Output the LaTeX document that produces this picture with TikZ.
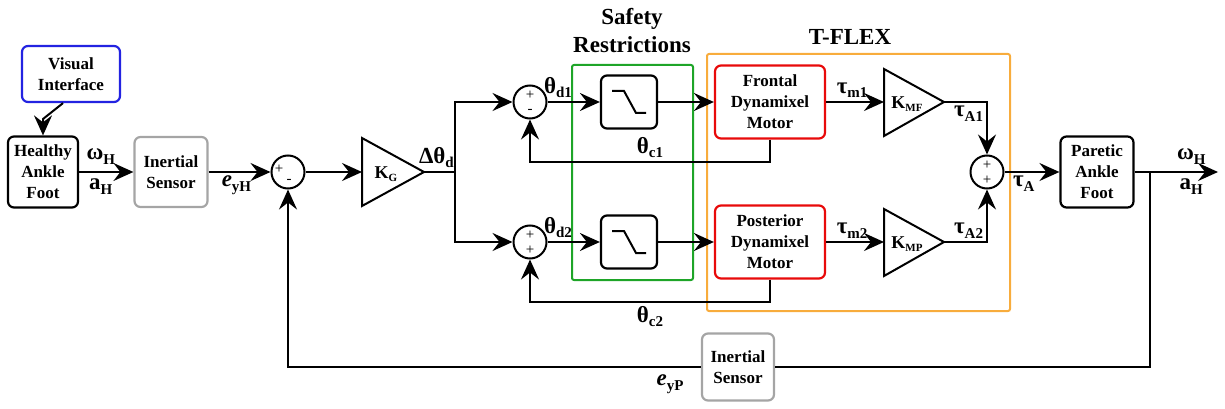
\documentclass[tikz,border=0pt]{standalone}
\usepackage{fontspec}
\setmainfont{Liberation Serif}
\usetikzlibrary{arrows.meta,calc}
\definecolor{viblue}{RGB}{35,35,225}
\definecolor{sensgray}{RGB}{165,165,165}
\definecolor{safegreen}{RGB}{30,165,40}
\definecolor{motorred}{RGB}{232,10,10}
\definecolor{flexorange}{RGB}{248,172,60}
\newcommand{\lsub}[2][15]{\raisebox{-0.2em}{\fontsize{#1}{#1}\selectfont #2}}

\begin{document}
\begin{tikzpicture}[x=1pt,y=-1pt,line width=2pt,>={Stealth[length=20pt,width=18pt,inset=7pt]},
  blk/.style={draw,rounded corners=6pt,line width=2.2pt,align=center,inner sep=0,font=\fontsize{17}{21}\selectfont\bfseries},
  sumnode/.style={draw,circle,minimum size=33pt,inner sep=0},
  sgn/.style={inner sep=0,font=\fontsize{15}{15}\selectfont},
  lbl/.style={inner sep=3pt,font=\fontsize{23}{26}\selectfont\bfseries},
  ttl/.style={align=center,font=\fontsize{23}{28}\selectfont\bfseries},
  gain/.style={inner sep=0,font=\fontsize{18}{18}\selectfont\bfseries}]
\useasboundingbox (0,0) rectangle (1225,409);
% frames
\draw[safegreen,rounded corners=2pt] (572,65) rectangle (693,280);
\draw[flexorange,rounded corners=2pt] (707,54) rectangle (1010,311);
\node[ttl] (safety) at (632,31) {Safety\\Restrictions};
\node[ttl] (tflex) at (850,37) {T-FLEX};
% healthy side
\node[blk,draw=viblue,minimum width=98pt,minimum height=56pt] (vis) at (71,74) {Visual\\Interface};
\node[blk,minimum width=70pt,minimum height=71pt] (hea) at (43,172) {Healthy\\Ankle\\Foot};
\node[blk,draw=sensgray,minimum width=73pt,minimum height=70pt] (sens1) at (171,172) {Inertial\\Sensor};
\node[sumnode] (esum) at (288,172) {};
\node[sgn] (esump) at ($(esum)+(-9,-3)$) {+};
\node[sgn] (esumm) at ($(esum)+(1,9)$) {-};
\draw[->] ([xshift=-8pt]vis.south) -- (43,119) -- (hea);
\draw[->] (hea) -- (sens1) node[lbl,pos=.4,above=4pt] (wh1) {ω\lsub{H}} node[lbl,pos=.4,below=3pt] (ah1) {a\lsub{H}};
\draw[->] (sens1) -- (esum) node[lbl,pos=.45,below] (eyh) {\textit{e}\lsub{yH}};
% gain
\draw (362,138) -- (424,172) -- (362,206) -- cycle;
\coordinate (kgin) at (362,172);
\coordinate (kgout) at (424,172);
\coordinate (split) at (455,172);
\node[gain] (kg) at (386,174) {K\lsub[11]{G}};
\draw[->] (esum) -- (kgin);
\draw (kgout) -- (split) node[lbl,pos=.4,above] (dth) {Δθ\lsub{d}};
% two branches
\node[sumnode] (dsum1) at (530,102) {};
\node[sgn] (dsum1p) at ($(dsum1)+(0,-7)$) {+};
\node[sgn] (dsum1m) at ($(dsum1)+(0,9)$) {-};
\node[sumnode] (dsum2) at (530,242) {};
\node[sgn] (dsum2p) at ($(dsum2)+(0,-7)$) {+};
\node[sgn] (dsum2q) at ($(dsum2)+(0,8)$) {+};
\draw[->] (split) |- (dsum1);
\draw[->] (split) |- (dsum2);
\foreach \y/\n/\mot/\k in {102/1/Frontal/MF,242/2/Posterior/MP}{
  \node[blk,minimum width=56pt,minimum height=53pt] (sat\n) at (629,\y) {};
  \draw ($(sat\n)+(-17,-11)$) -- ++(12,0) -- ++(12,22) -- ++(10,0);
  \node[blk,draw=motorred,minimum width=110pt,minimum height=73pt] (mot\n) at (770,\y) {\mot\\Dynamixel\\Motor};
  \draw (884,\y-33) -- (944,\y) -- (884,\y+34) -- cycle;
  \coordinate (gin\n) at (884,\y);
  \coordinate (gout\n) at (944,\y);
  \node[gain] (k\n) at (907,\y+2) {K\lsub[11]{\k}};
  \draw[->] (dsum\n) -- (sat\n) node[lbl,pos=.2,above] (thd\n) {θ\lsub{d\n}};
  \draw[->] (sat\n) -- (mot\n);
  \draw[->] (mot\n) -- (gin\n) node[lbl,pos=.45,above] (tm\n) {τ\lsub{m\n}};
}
% torque sum
\node[sumnode] (tsum) at (987,172) {};
\node[sgn] (tsump) at ($(tsum)+(0,-7)$) {+};
\node[sgn] (tsumq) at ($(tsum)+(0,8)$) {+};
\draw[->] (gout1) -| (tsum) node[lbl,pos=.5,below left] (ta1) {τ\lsub{A1}};
\draw[->] (gout2) -| (tsum) node[lbl,pos=.5,above left] (ta2) {τ\lsub{A2}};
% motor feedback
\draw[->] (mot1.south) -- (770,162) -| (dsum1) node[lbl,pos=.25,above] (thc1) {θ\lsub{c1}};
\draw[->] (mot2.south) -- (770,302) -| (dsum2) node[lbl,pos=.25,below] (thc2) {θ\lsub{c2}};
% paretic side
\node[blk,minimum width=73pt,minimum height=71pt] (par) at (1097,172) {Paretic\\Ankle\\Foot};
\coordinate (out) at (1218,172);
\coordinate (tap) at (1150,172);
\draw[->] (tsum) -- (par) node[lbl,pos=.35,below] (ta) {τ\lsub{A}};
\draw[->] (par) -- (out) node[lbl,pos=.68,above=4pt] (wh2) {ω\lsub{H}} node[lbl,pos=.68,below=3pt] (ah2) {a\lsub{H}};
\node[blk,draw=sensgray,minimum width=72pt,minimum height=67pt] (sens2) at (738,367) {Inertial\\Sensor};
\draw (tap) |- (sens2);
\draw[->] (sens2) -| (esum);
\node[lbl] (eyp) at (670,384) {\textit{e}\lsub{yP}};
\end{tikzpicture}
\end{document}
